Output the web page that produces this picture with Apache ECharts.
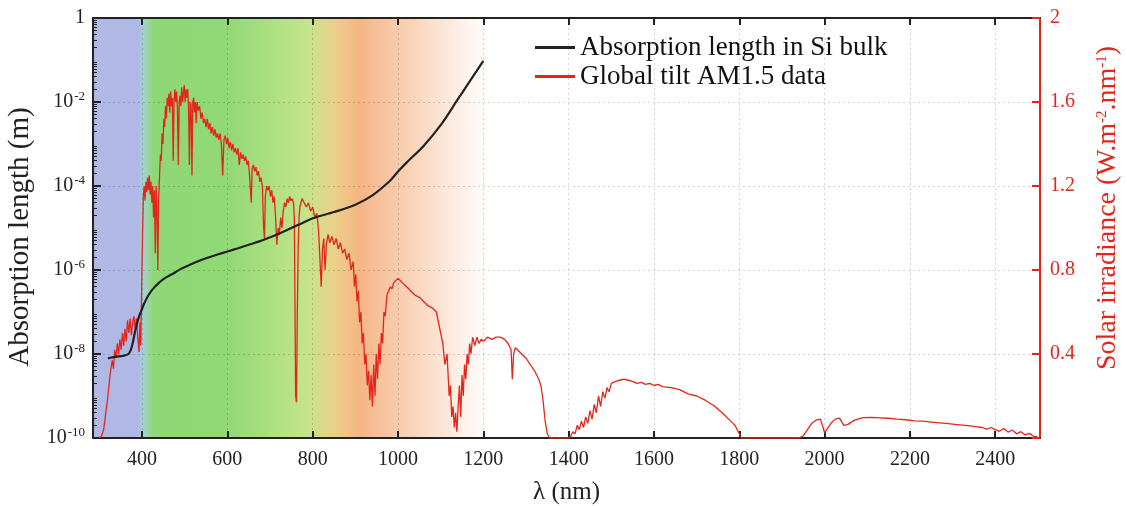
<!DOCTYPE html>
<html>
<head>
<meta charset="utf-8">
<script src="https://cdn.jsdelivr.net/npm/echarts@6/dist/echarts.min.js"></script>
<style>html,body{margin:0;padding:0;background:#fff}#c{width:1127px;height:506px}</style>
</head>
<body>
<div id="c"></div>
<script>
// ---- data ----
const xTicks = [400, 600, 800, 1000, 1200, 1400, 1600, 1800, 2000, 2200, 2400];
const leftTicks = [1e-10, 1e-8, 1e-6, 1e-4, 1e-2, 1];
const minorMantissas = [2, 3, 4, 5, 6, 7, 8, 9];
const decadeExps = [-10, -9, -8, -7, -6, -5, -4, -3, -2, -1];
const rightTicks = [0.4, 0.8, 1.2, 1.6, 2];

// Absorption length in Si bulk (m)
const absWl = [320, 330, 340, 350, 360, 368, 373, 378, 383, 388, 393, 398, 405, 415, 425, 440, 455, 470, 490, 510, 530, 550, 575, 600, 625, 650, 675, 700, 725, 750, 775, 800, 850, 900, 940, 980, 1000, 1020, 1060, 1100, 1140, 1170, 1200];
const absLen = [7.9e-9, 8.3e-9, 8.7e-9, 8.9e-9, 9.3e-9, 1.0e-8, 1.2e-8, 1.8e-8, 3.2e-8, 5.2e-8, 7.9e-8, 1.05e-7, 1.6e-7, 2.5e-7, 3.5e-7, 5.0e-7, 6.6e-7, 7.9e-7, 1.05e-6, 1.3e-6, 1.6e-6, 1.9e-6, 2.3e-6, 2.75e-6, 3.3e-6, 4.0e-6, 4.8e-6, 6.0e-6, 7.6e-6, 1.0e-5, 1.3e-5, 1.7e-5, 2.4e-5, 3.6e-5, 6.0e-5, 1.3e-4, 2.2e-4, 3.6e-4, 9.0e-4, 2.8e-3, 1.15e-2, 3.3e-2, 9.5e-2];

// Global tilt AM1.5 spectrum (W m-2 nm-1)
const solWl = [300,305,310,315,320,325,330,333,336,339,342,345,348,351,354,357,360,363,366,369,372,375,378,381,384,387,390,393,395,397,399,
401,403,405,407,409,411,413,415,417,419,421,423,425,427,429,431,433,435,437,439,441,443,445,447,449,451,453,455,457,459,461,463,
465,467,469,471,473,475,477,479,481,483,485,487,489,491,493,495,497,499,501,503,505,507,509,511,513,515,517,519,521,523,525,527,529,
532,535,538,541,544,547,550,553,556,559,562,565,568,571,574,577,580,583,586,589,592,595,598,601,604,607,610,613,616,619,622,625,628,631,634,637,640,643,646,649,652,656,658,661,664,667,670,673,676,679,682,685,687,689,692,695,698,701,704,707,710,713,716,719,722,725,728,731,734,737,740,743,746,749,752,755,757,759,760,762,764,766,768,
770,775,780,785,790,795,800,805,810,814,817,820,823,826,829,832,836,840,845,850,855,860,865,870,875,880,885,890,895,898,901,904,907,910,913,916,919,922,925,928,931,934,937,940,943,946,949,952,955,958,961,964,967,970,974,978,982,986,990,995,1000,1005,1010,1020,1030,1040,1050,1060,1070,1080,1090,1095,1100,1105,1110,1115,1120,1123,1126,1129,1132,1135,1138,1141,1144,1147,1150,1153,1156,1159,1162,1165,1168,1171,1175,1180,1185,1190,1195,1200,1210,1220,1230,1240,1250,1258,1265,1268,1271,1275,1280,1290,1300,1310,1320,1330,1335,1340,1345,1350,1355,1400,
1405,1410,1415,1420,1425,1430,1435,1440,1445,1450,1455,1460,1465,1470,1475,1480,1485,1490,1495,1500,1510,1520,1530,1540,1550,1560,1570,1580,1590,1600,1610,1620,1640,1660,1680,1700,1720,1740,1760,1775,1790,1800,1805,1940,
1950,1960,1970,1980,1990,1995,2000,2005,2015,2025,2035,2045,2055,2070,2090,2110,2130,2150,2170,2190,2210,2230,2250,2270,2290,2310,2330,2350,2370,2380,2390,2400,2410,2420,2430,2440,2450,2460,2470,2480,2490,2500];
const solIrr = [0,0.01,0.04,0.12,0.2,0.3,0.37,0.33,0.42,0.38,0.45,0.4,0.47,0.42,0.5,0.44,0.52,0.46,0.56,0.5,0.57,0.49,0.55,0.58,0.52,0.57,0.48,0.41,0.55,0.44,0.7,
0.95,1.15,1.2,1.13,1.22,1.17,1.24,1.18,1.25,1.16,1.22,1.12,1.2,1.05,1.18,0.88,1.2,1.1,0.8,1.15,1.25,1.35,1.32,1.45,1.4,1.52,1.48,1.58,1.52,1.62,1.58,1.64,
1.55,1.65,1.58,1.62,1.32,1.6,1.66,1.6,1.65,1.57,1.3,1.6,1.63,1.58,1.67,1.6,1.64,1.68,1.6,1.66,1.62,1.66,1.58,1.3,1.6,1.58,1.25,1.6,1.62,1.55,1.6,1.5,1.6,
1.56,1.58,1.52,1.55,1.5,1.52,1.48,1.52,1.47,1.5,1.45,1.48,1.44,1.47,1.43,1.45,1.42,1.45,1.4,1.25,1.42,1.44,1.4,1.43,1.38,1.41,1.37,1.4,1.36,1.38,1.35,1.38,1.3,1.36,1.33,1.35,1.32,1.34,1.3,1.32,1.25,1.12,1.28,1.3,1.27,1.29,1.25,1.27,1.22,1.24,1.2,1.0,0.95,1.15,1.2,1.18,1.2,1.15,1.18,1.12,1.15,1.05,0.92,1.0,0.97,1.05,1.0,1.08,1.12,1.1,1.14,1.12,1.15,1.13,1.14,1.12,1.05,0.5,0.2,0.17,0.6,0.9,1.05,
1.1,1.14,1.12,1.1,1.12,1.08,1.1,1.05,1.07,0.98,0.85,0.72,0.9,0.95,0.8,0.92,0.97,0.93,0.96,0.92,0.95,0.9,0.93,0.88,0.9,0.85,0.88,0.8,0.84,0.72,0.78,0.65,0.7,0.55,0.6,0.45,0.5,0.35,0.4,0.25,0.32,0.18,0.3,0.15,0.35,0.2,0.4,0.28,0.45,0.35,0.5,0.45,0.6,0.58,0.68,0.7,0.72,0.71,0.74,0.75,0.76,0.75,0.74,0.72,0.7,0.68,0.67,0.65,0.63,0.62,0.6,0.55,0.5,0.45,0.35,0.4,0.2,0.25,0.1,0.15,0.05,0.12,0.03,0.15,0.25,0.1,0.3,0.2,0.35,0.28,0.4,0.35,0.45,0.4,0.48,0.44,0.48,0.45,0.47,0.46,0.48,0.47,0.48,0.48,0.47,0.45,0.42,0.28,0.4,0.43,0.42,0.4,0.38,0.35,0.32,0.28,0.25,0.18,0.08,0.02,0,0,
0.01,0.03,0.02,0.06,0.04,0.08,0.05,0.1,0.07,0.13,0.09,0.16,0.12,0.2,0.15,0.22,0.19,0.24,0.22,0.26,0.27,0.275,0.28,0.275,0.27,0.26,0.265,0.255,0.26,0.25,0.255,0.245,0.24,0.23,0.21,0.2,0.18,0.155,0.12,0.09,0.06,0.02,0,0,
0.01,0.04,0.07,0.085,0.09,0.06,0.025,0.04,0.07,0.09,0.095,0.06,0.065,0.085,0.097,0.098,0.096,0.094,0.09,0.087,0.082,0.08,0.076,0.072,0.068,0.064,0.06,0.055,0.05,0.042,0.05,0.04,0.032,0.045,0.028,0.038,0.02,0.03,0.015,0.022,0.008,0.005];

// spectral background band (wavelength positions and colours)
const bandStart = 285, bandEnd = 1215;
const bandWl = [285, 390, 405, 425, 600, 700, 790, 850, 910, 960, 1050, 1140, 1215];
const bandColors = ['#b0b8e6','#b0b8e6','#a2d4cc','#8fd877','#92d876','#ace080','#c6e48c','#ebd08a','#f6b584','#f7c29d','#fad8c0','#fdeee4','#ffffff'];

const serif = '"Liberation Serif", "Times New Roman", serif';
const RED = '#e3261c';

const absData = absWl.map((w, i) => [w, absLen[i]]);
const solData = solWl.map((w, i) => [w, solIrr[i]]);
const stops = bandWl.map((w, i) => ({offset: (w - bandStart) / (bandEnd - bandStart), color: bandColors[i]}));
const minorTicks = [];
decadeExps.forEach(e => minorMantissas.forEach(m => minorTicks.push(m * Math.pow(10, e))));

const chart = echarts.init(document.getElementById('c'), null, {renderer: 'canvas'});
const gridLine = {show: true, lineStyle: {color: 'rgba(0,0,0,0.17)', type: [2, 3], width: 1}};
const AZ = 3;
chart.setOption({
  animation: false,
  backgroundColor: '#fff',
  grid: {left: 93, right: 87, top: 18, bottom: 68, containLabel: false, outerBoundsMode: 'none'},
  legend: {
    orient: 'vertical', left: 530, top: 29, itemWidth: 40, itemHeight: 3, itemGap: 2,
    textStyle: {fontFamily: serif, fontSize: 27, color: '#111'},
    data: [{name: 'Absorption length in Si bulk', icon: 'rect'}, {name: 'Global tilt AM1.5 data', icon: 'rect'}]
  },
  xAxis: [{
    type: 'value', min: 285, max: 2505, position: 'bottom', z: AZ,
    name: 'λ (nm)', nameLocation: 'middle', nameGap: 42,
    nameTextStyle: {fontFamily: serif, fontSize: 25, color: '#222'},
    axisLine: {show: true, onZero: false, lineStyle: {color: '#222', width: 2}},
    axisTick: {show: true, inside: true, length: 7, customValues: xTicks, lineStyle: {color: '#222', width: 2}},
    axisLabel: {customValues: xTicks, fontFamily: serif, fontSize: 20, color: '#222', margin: 12,
      formatter: function (v) { return String(v); }},
    splitLine: gridLine
  }, {
    type: 'value', min: 285, max: 2505, position: 'top', z: AZ,
    axisLine: {show: true, onZero: false, lineStyle: {color: '#222', width: 2}},
    axisTick: {show: true, inside: true, length: 7, customValues: xTicks, lineStyle: {color: '#222', width: 2}},
    axisLabel: {show: false},
    splitLine: {show: false}
  }],
  yAxis: [{
    type: 'log', logBase: 10, min: 1e-10, max: 1, position: 'left', z: AZ,
    name: 'Absorption length (m)', nameLocation: 'middle', nameGap: 58, nameRotate: 90,
    nameTextStyle: {fontFamily: serif, fontSize: 29, color: '#222', padding: [0, 18, 0, 0]},
    axisLine: {show: true, onZero: false, lineStyle: {color: '#222', width: 2}},
    axisTick: {show: true, inside: true, length: 8, customValues: leftTicks, lineStyle: {color: '#222', width: 2}},
    axisLabel: {
      customValues: leftTicks,
      fontFamily: serif, fontSize: 20, color: '#222', margin: 8,
      formatter: function (v) {
        const e = Math.round(Math.log10(v));
        return e === 0 ? '1' : '10{sup|' + e + '}';
      },
      rich: {sup: {fontFamily: serif, fontSize: 13, color: '#222', verticalAlign: 'bottom', padding: [0, 0, 10, 1]}}
    },
    splitLine: gridLine
  }, {
    type: 'value', min: 0, max: 2, interval: 0.4, position: 'right', z: AZ,
    name: 'Solar irradiance (W.m{sup|-2}.nm{sup|-1})', nameLocation: 'middle', nameGap: 54, nameRotate: 90,
    nameTextStyle: {fontFamily: serif, fontSize: 28, color: RED, padding: [0, 0, 0, 40],
      rich: {sup: {fontFamily: serif, fontSize: 15, color: RED, verticalAlign: 'bottom', padding: [0, 0, 12, 0]}}},
    axisLine: {show: true, onZero: false, lineStyle: {color: RED, width: 2}},
    axisTick: {show: true, inside: true, length: 8, lineStyle: {color: RED, width: 2}},
    axisLabel: {fontFamily: serif, fontSize: 20, color: RED, margin: 10,
      formatter: function (v) { return v === 0 ? '' : String(v); }},
    splitLine: {show: false}
  }, {
    type: 'log', logBase: 10, min: 1e-10, max: 1, position: 'left', z: AZ,
    axisLine: {show: false},
    axisTick: {show: true, inside: true, length: 4, customValues: minorTicks, lineStyle: {color: '#222', width: 1}},
    axisLabel: {show: false},
    splitLine: {show: false}
  }],
  series: [{
    type: 'line', name: 'band', data: [], silent: true, z: 0,
    markArea: {
      silent: true, z: 0,
      itemStyle: {opacity: 1, color: {type: 'linear', x: 0, y: 0, x2: 1, y2: 0, colorStops: stops}},
      data: [[{xAxis: bandStart}, {xAxis: bandEnd}]]
    }
  }, {
    type: 'line', name: 'Global tilt AM1.5 data', xAxisIndex: 0, yAxisIndex: 1, data: solData,
    showSymbol: false, symbol: 'none', z: 4, color: RED,
    lineStyle: {color: RED, width: 1.3}
  }, {
    type: 'line', name: 'Absorption length in Si bulk', xAxisIndex: 0, yAxisIndex: 0, data: absData,
    showSymbol: false, symbol: 'none', z: 5, color: '#222', smooth: 0.3,
    lineStyle: {color: '#222', width: 2.2}
  }]
});
</script>
</body>
</html>
